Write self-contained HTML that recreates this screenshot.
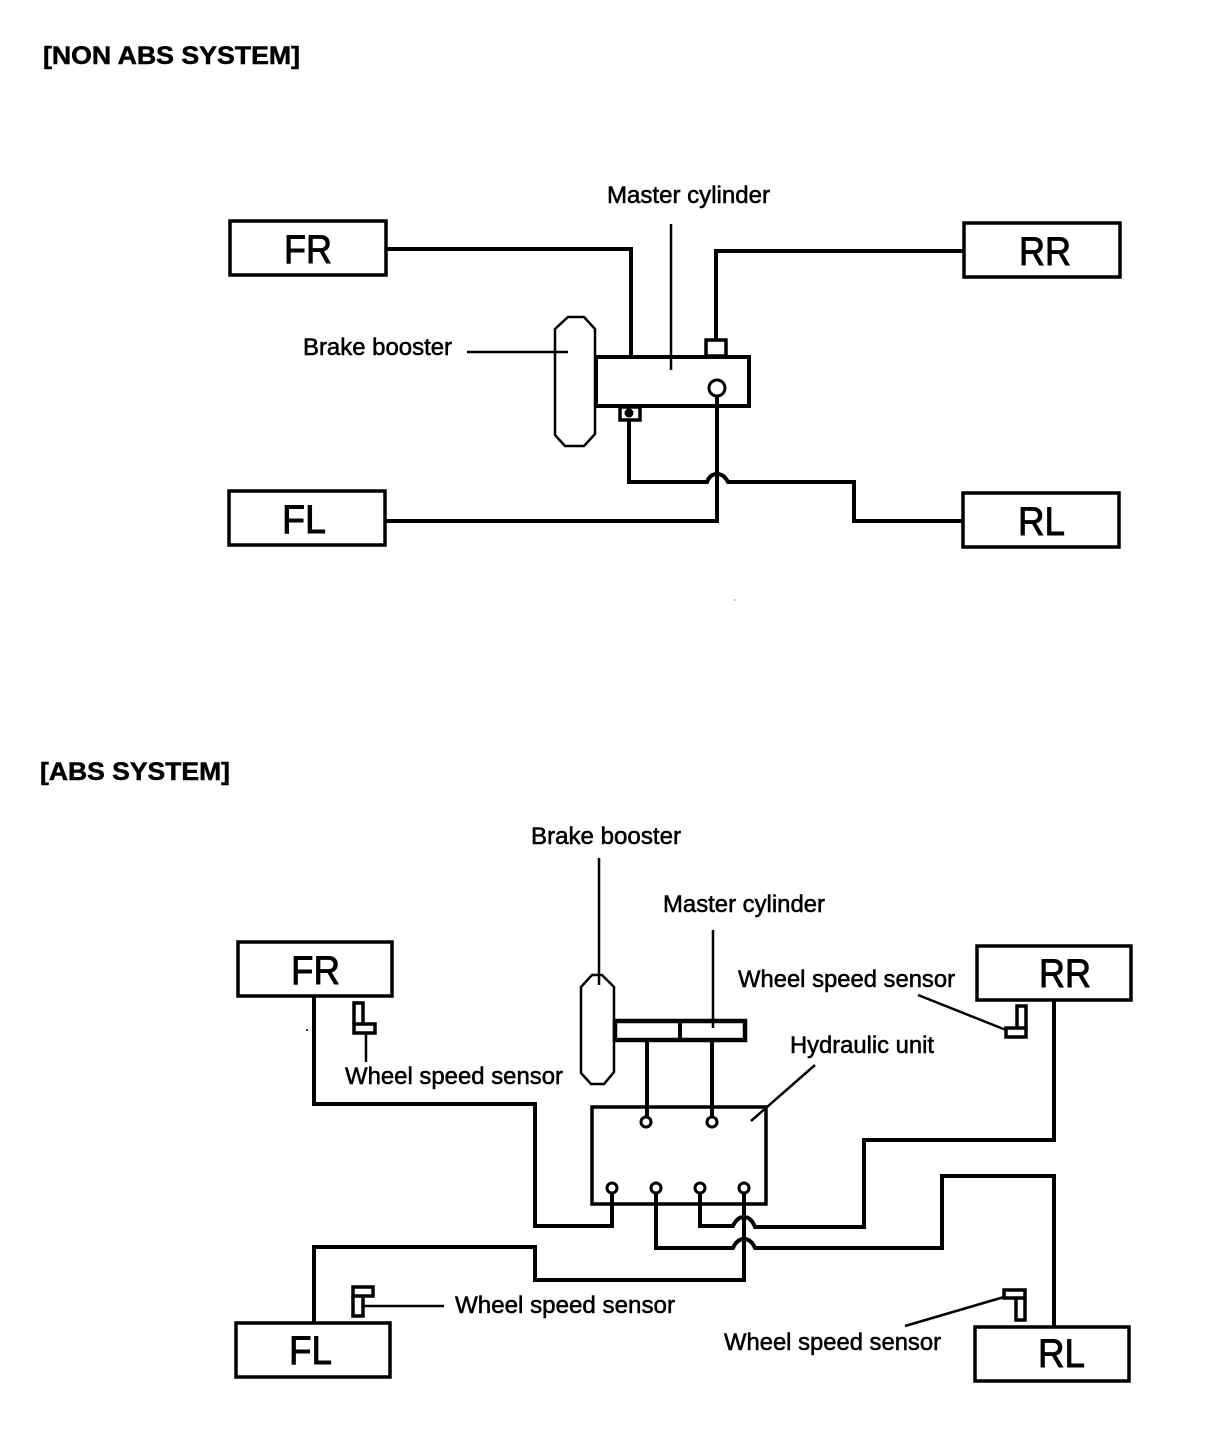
<!DOCTYPE html>
<html><head><meta charset="utf-8"><style>
html,body{margin:0;padding:0;background:#fff}
svg{display:block}
text{font-family:"Liberation Sans",sans-serif;fill:#000}
.l{font-size:24px;font-weight:400;stroke:#000;stroke-width:.55}
.b{font-size:40px;stroke:#000;stroke-width:.9}
.t{font-size:25px;font-weight:700;stroke:#000;stroke-width:.5}
.box{fill:none;stroke:#000;stroke-width:3.5}
.p{fill:none;stroke:#000;stroke-width:4}
.th{fill:none;stroke:#000;stroke-width:2.5}
.c{fill:#fff;stroke:#000;stroke-width:3}
</style></head><body>
<svg width="1216" height="1450" viewBox="0 0 1216 1450" xmlns="http://www.w3.org/2000/svg">
<rect width="1216" height="1450" fill="#fff"/>
<text class="t" x="43" y="64" textLength="257" lengthAdjust="spacingAndGlyphs">[NON ABS SYSTEM]</text>
<text class="t" x="40" y="780" textLength="190" lengthAdjust="spacingAndGlyphs">[ABS SYSTEM]</text>

<!-- Non ABS -->
<rect class="box" x="230" y="221" width="156" height="54"/>
<rect class="box" x="964" y="223" width="156" height="54"/>
<rect class="box" x="229" y="491" width="156" height="54"/>
<rect class="box" x="963" y="493" width="156" height="54"/>
<text class="b" x="284" y="263" textLength="48" lengthAdjust="spacingAndGlyphs">FR</text>
<text class="b" x="1019" y="265" textLength="52" lengthAdjust="spacingAndGlyphs">RR</text>
<text class="b" x="282" y="533" textLength="44" lengthAdjust="spacingAndGlyphs">FL</text>
<text class="b" x="1018" y="535" textLength="47" lengthAdjust="spacingAndGlyphs">RL</text>
<text class="l" x="607" y="203" textLength="163" lengthAdjust="spacingAndGlyphs">Master cylinder</text>
<text class="l" x="303" y="355" textLength="149" lengthAdjust="spacingAndGlyphs">Brake booster</text>

<path class="p" d="M386 249H631V357"/>
<path class="p" d="M964 251H716V340"/>
<path class="p" d="M385 521H717V396"/>
<path class="p" d="M629 421V482H707Q710 474 717 474Q724 474 728 482H854V521H963"/>
<path class="th" d="M467 352H568"/>
<path class="th" d="M568 317H584L595 329V434L584 446H565L555 435V329Z"/>
<rect x="596" y="357" width="153" height="49" fill="#fff" stroke="#000" stroke-width="4"/>
<path class="th" d="M671 224V370"/>
<rect class="box" x="706" y="340" width="20" height="16"/>
<rect class="box" x="620" y="407" width="20" height="13"/>
<circle cx="629" cy="413" r="4.5"/>
<path class="p" d="M717 396V406"/>
<circle class="c" cx="717" cy="388" r="8"/>
<circle cx="735" cy="600" r=".5"/>

<!-- ABS -->
<rect class="box" x="238" y="942" width="154" height="54"/>
<rect class="box" x="977" y="946" width="154" height="54"/>
<rect class="box" x="236" y="1323" width="154" height="54"/>
<rect class="box" x="975" y="1327" width="154" height="54"/>
<text class="b" x="291" y="984" textLength="49" lengthAdjust="spacingAndGlyphs">FR</text>
<text class="b" x="1039" y="987" textLength="52" lengthAdjust="spacingAndGlyphs">RR</text>
<text class="b" x="289" y="1364" textLength="43" lengthAdjust="spacingAndGlyphs">FL</text>
<text class="b" x="1038" y="1367" textLength="47" lengthAdjust="spacingAndGlyphs">RL</text>

<text class="l" x="531" y="844" textLength="150" lengthAdjust="spacingAndGlyphs">Brake booster</text>
<text class="l" x="663" y="912" textLength="162" lengthAdjust="spacingAndGlyphs">Master cylinder</text>
<text class="l" x="738" y="987" textLength="217" lengthAdjust="spacingAndGlyphs">Wheel speed sensor</text>
<text class="l" x="790" y="1053" textLength="144" lengthAdjust="spacingAndGlyphs">Hydraulic unit</text>
<text class="l" x="345" y="1084" textLength="218" lengthAdjust="spacingAndGlyphs">Wheel speed sensor</text>
<text class="l" x="455" y="1313" textLength="220" lengthAdjust="spacingAndGlyphs">Wheel speed sensor</text>
<text class="l" x="724" y="1350" textLength="217" lengthAdjust="spacingAndGlyphs">Wheel speed sensor</text>

<path class="th" d="M592 975H602L614 987V1072L604 1084H591L581 1073V987Z"/>
<rect x="615" y="1021" width="130" height="19" fill="#fff" stroke="#000" stroke-width="4.5"/>
<path class="p" d="M680 1021V1040"/>
<path class="th" d="M599 858V985M713 930V1028"/>
<rect class="box" x="592" y="1107" width="174" height="97"/>
<path class="th" d="M751 1121L815 1065"/>
<path class="p" d="M647 1040V1116M712 1040V1116"/>
<path class="p" d="M612 1194V1226H535V1104H314V996"/>
<path class="p" d="M656 1194V1248H733Q737 1239 744 1239Q751 1239 755 1248H942V1176H1054V1327"/>
<path class="p" d="M700 1194V1226H733Q737 1217 744 1217Q751 1217 755 1227H864V1140H1054V1000"/>
<path class="p" d="M744 1194V1280H535V1247H314V1323"/>
<circle class="c" cx="646" cy="1122" r="5"/>
<circle class="c" cx="712" cy="1122" r="5"/>
<circle class="c" cx="612" cy="1188" r="5"/>
<circle class="c" cx="656" cy="1188" r="5"/>
<circle class="c" cx="700" cy="1188" r="5"/>
<circle class="c" cx="744" cy="1188" r="5"/>
<circle cx="307" cy="1030" r="1"/>

<!-- Sensors -->
<path class="box" d="M354 1024V1003H363V1024"/>
<rect class="box" x="354" y="1024" width="21" height="9"/>
<path class="th" d="M366 1033V1062"/>
<path class="box" d="M1017 1028V1006H1026V1028"/>
<rect class="box" x="1006" y="1028" width="20" height="9"/>
<path class="th" d="M918 995L1006 1030"/>
<rect class="box" x="353" y="1287" width="20" height="9"/>
<path class="box" d="M353 1296V1316H363V1296"/>
<path class="th" d="M363 1306H444"/>
<rect class="box" x="1004" y="1290" width="21" height="8"/>
<path class="box" d="M1016 1298V1320H1025V1298"/>
<path class="th" d="M905 1326L1004 1297"/>
</svg>
</body></html>
